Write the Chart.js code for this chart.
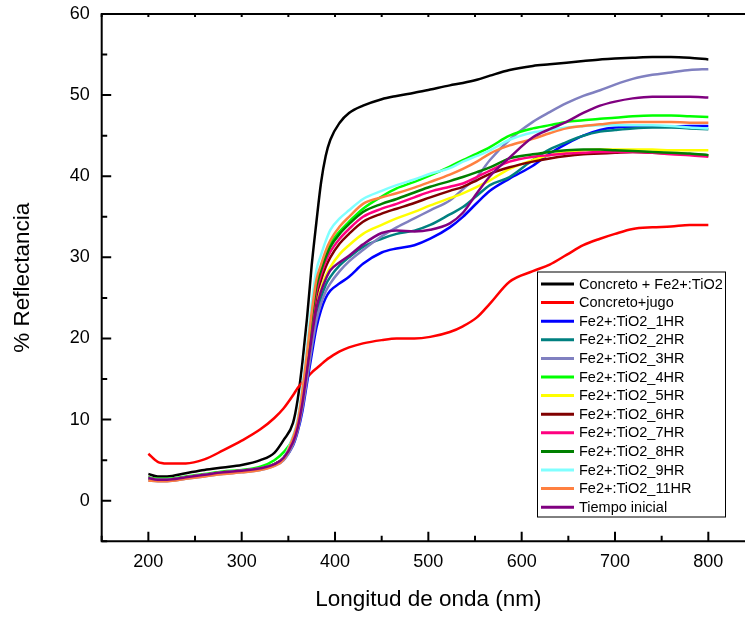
<!DOCTYPE html>
<html><head><meta charset="utf-8">
<script src="https://cdn.jsdelivr.net/npm/chart.js@4/dist/chart.umd.min.js"></script>
<style>
html,body{margin:0;padding:0;background:#fff;overflow:hidden;}
#wrap{width:745px;height:617px;overflow:hidden;position:relative;}
canvas{position:absolute;left:0;top:0;}
</style>
</head><body>
<div id="wrap"><canvas id="c" width="800" height="617" style="width:800px;height:617px"></canvas></div>
<script>
// ---- data ----
const wavelength = [200,210,220,240,260,280,300,320,335,345,355,360,365,370,375,380,385,390,395,405,415,430,450,466,485,502,523,537,552,566,587,612,630,648,666,684,700,719,740,760,780,800];

const concretoFe = [3.3,3.0,3.0,3.4,3.8,4.1,4.4,5.0,5.9,7.5,9.6,12.5,17.0,22.5,29.0,34.3,39.2,42.5,44.5,46.6,47.8,48.7,49.5,49.9,50.3,50.7,51.2,51.5,51.9,52.4,53.1,53.6,53.8,54.0,54.2,54.4,54.5,54.6,54.7,54.7,54.6,54.4];
const concretoJugo = [5.8,4.8,4.6,4.6,5.1,6.2,7.4,8.8,10.2,11.4,13.0,13.9,14.6,15.2,15.8,16.3,16.8,17.3,17.7,18.4,18.9,19.4,19.8,20.0,20.0,20.2,20.8,21.5,22.6,24.3,27.0,28.3,29.1,30.3,31.5,32.3,32.9,33.5,33.7,33.8,34.0,34.0];
const hr1 = [2.7,2.6,2.6,2.9,3.2,3.5,3.7,4.0,4.4,5.1,6.8,8.5,11.0,14.5,18.0,21.3,23.5,25.0,25.9,26.8,27.6,29.2,30.6,31.1,31.5,32.3,33.7,35.0,36.7,38.2,39.7,41.3,42.8,44.0,45.0,45.7,46.0,46.1,46.1,46.1,46.2,46.2];
const hr2 = [2.8,2.6,2.6,2.9,3.2,3.5,3.7,4.0,4.5,5.3,7.1,8.8,11.7,15.5,19.4,22.9,25.0,26.6,27.6,29.0,30.0,31.3,32.3,32.9,33.3,34.0,35.3,36.2,37.6,38.9,39.9,42.0,43.3,44.2,45.0,45.5,45.7,45.9,46.0,46.0,45.9,45.8];
const hr3 = [2.5,2.4,2.4,2.7,3.0,3.3,3.5,3.8,4.3,5.0,6.9,8.7,11.4,15.0,18.8,22.2,24.3,25.8,26.8,28.3,29.5,30.9,32.6,33.7,34.8,35.8,37.0,38.4,39.9,42.0,44.5,46.7,47.9,49.0,49.9,50.6,51.3,52.0,52.5,52.8,53.1,53.2];
const hr4 = [2.9,2.7,2.7,3.0,3.3,3.6,3.8,4.2,5.0,6.0,7.7,9.7,13.3,18.0,22.9,26.8,28.8,30.4,31.7,33.2,34.4,36.0,37.5,38.5,39.3,40.1,41.2,42.0,42.8,43.6,45.0,45.9,46.3,46.7,46.9,47.1,47.2,47.4,47.5,47.5,47.4,47.3];
const hr5 = [2.8,2.6,2.6,2.9,3.2,3.5,3.7,4.0,4.5,5.3,7.3,9.1,12.2,16.2,20.4,24.0,26.1,27.7,28.8,30.4,31.5,32.9,34.0,34.8,35.6,36.4,37.3,37.9,38.7,39.5,40.9,42.0,42.6,43.0,43.2,43.3,43.3,43.3,43.3,43.2,43.2,43.2];
const hr6 = [2.8,2.6,2.6,2.9,3.2,3.5,3.7,4.0,4.5,5.3,7.5,9.3,12.6,17.0,21.4,25.2,27.2,28.8,30.0,31.7,32.9,34.4,35.4,36.0,36.7,37.4,38.2,38.7,39.5,40.3,41.1,41.8,42.2,42.5,42.7,42.8,42.9,43.0,42.9,42.8,42.7,42.6];
const hr7 = [2.8,2.6,2.6,2.9,3.2,3.5,3.7,4.0,4.5,5.3,7.6,9.5,12.9,17.4,22.0,25.8,27.9,29.5,30.7,32.3,33.5,35.0,36.0,36.6,37.4,38.1,38.7,39.1,39.9,40.7,41.8,42.4,42.6,42.8,42.9,43.0,43.0,43.0,42.9,42.7,42.6,42.4];
const hr8 = [2.8,2.6,2.6,2.9,3.2,3.5,3.7,4.0,4.5,5.3,7.7,9.6,13.2,17.7,22.5,26.4,28.4,30.0,31.3,32.9,34.1,35.6,36.6,37.2,38.0,38.7,39.4,39.9,40.5,41.1,42.2,42.7,43.0,43.2,43.3,43.3,43.2,43.1,43.0,42.9,42.8,42.6];
const hr9 = [2.8,2.6,2.6,2.9,3.2,3.5,3.7,4.0,4.5,5.3,8.0,10.0,14.0,19.0,24.3,28.4,30.3,32.0,33.4,34.8,35.8,37.2,38.2,38.9,39.6,40.3,41.0,41.8,42.5,43.2,44.5,45.4,45.7,46.0,46.2,46.3,46.3,46.3,46.3,46.2,46.0,45.9];
const hr11 = [2.5,2.4,2.4,2.7,3.0,3.3,3.5,3.8,4.3,5.1,7.8,9.7,13.5,18.2,23.2,27.2,29.1,30.8,32.1,33.8,35.0,36.6,37.4,37.9,38.6,39.3,40.2,40.9,41.8,42.8,43.8,44.6,45.3,45.9,46.2,46.4,46.6,46.7,46.7,46.7,46.6,46.6];
const tiempoInicial = [2.8,2.6,2.6,2.9,3.2,3.5,3.7,4.0,4.5,5.3,7.2,9.0,12.0,16.0,20.1,23.7,25.8,27.3,28.4,29.4,30.2,31.6,33.0,33.3,33.2,33.4,34.2,35.5,37.9,40.0,42.3,44.8,45.8,46.7,47.8,48.7,49.2,49.6,49.8,49.8,49.8,49.7];

const seriesLabels = ['Concreto + Fe2+:TiO2','Concreto+jugo','Fe2+:TiO2_1HR','Fe2+:TiO2_2HR','Fe2+:TiO2_3HR','Fe2+:TiO2_4HR','Fe2+:TiO2_5HR','Fe2+:TiO2_6HR','Fe2+:TiO2_7HR','Fe2+:TiO2_8HR','Fe2+:TiO2_9HR','Fe2+:TiO2_11HR','Tiempo inicial'];
const seriesValues = [concretoFe,concretoJugo,hr1,hr2,hr3,hr4,hr5,hr6,hr7,hr8,hr9,hr11,tiempoInicial];
const seriesColors = ['#000000','#FF0000','#0000FF','#008080','#8080C0','#00FF00','#FFFF00','#800000','#FF0080','#008000','#80FFFF','#FF8040','#800080'];

const xTickLabels = [200,300,400,500,600,700,800];
const yTickLabels = [0,10,20,30,40,50,60];

const FONT = "'Liberation Sans', Arial, Helvetica, sans-serif";

const datasets = seriesLabels.map((lab,i)=>({
  label: lab,
  data: wavelength.map((w,j)=>({x:w, y:seriesValues[i][j]})),
  borderColor: seriesColors[i],
  backgroundColor: seriesColors[i],
  borderWidth: 2.5,
  pointRadius: 0,
  cubicInterpolationMode: 'monotone',
  fill: false,
  order: seriesLabels.length - i
}));

const framePlugin = {
  id: 'frame',
  afterDraw(chart){
    const {ctx, chartArea:a, scales:{x,y}} = chart;
    ctx.save();
    ctx.strokeStyle = '#000';
    ctx.lineWidth = 2;
    ctx.lineCap = 'butt';
    ctx.beginPath();
    ctx.moveTo(a.left, a.top); ctx.lineTo(a.right, a.top);
    ctx.moveTo(a.left, a.top - 1); ctx.lineTo(a.left, a.bottom + 1);
    ctx.moveTo(a.left - 1, a.bottom); ctx.lineTo(a.right, a.bottom);
    ctx.stroke();
    ctx.lineWidth = 2;
    ctx.beginPath();
    for (let v = x.min; v <= x.max + 1e-6; v += 50){
      const px = x.getPixelForValue(v);
      const len = (v % 100 === 0) ? 9.5 : 5.5;
      ctx.moveTo(px, a.bottom); ctx.lineTo(px, a.bottom - len);
      ctx.moveTo(px, a.top); ctx.lineTo(px, a.top + 3);
    }
    for (let v = y.min; v <= y.max + 1e-6; v += 5){
      const py = y.getPixelForValue(v);
      const len = (v % 10 === 0) ? 9.5 : 5.5;
      ctx.moveTo(a.left, py); ctx.lineTo(a.left + len, py);
    }
    ctx.stroke();
    // legend
    const bx = 537.5, by = 272, bw = 188, bh = 245;
    ctx.fillStyle = '#fff';
    ctx.fillRect(bx, by, bw, bh);
    ctx.lineWidth = 1;
    ctx.strokeStyle = '#000';
    ctx.strokeRect(bx, by, bw, bh);
    ctx.font = '14.5px ' + FONT;
    ctx.textBaseline = 'middle';
    ctx.textAlign = 'left';
    chart.data.datasets.forEach((ds,i)=>{
      const cy = 284 + i*18.6;
      ctx.strokeStyle = ds.borderColor;
      ctx.lineWidth = 3;
      ctx.beginPath(); ctx.moveTo(541, cy); ctx.lineTo(574, cy); ctx.stroke();
      ctx.fillStyle = '#000';
      ctx.fillText(ds.label, 579, cy + 0.5);
    });
    ctx.restore();
  }
};

new Chart(document.getElementById('c'), {
  type: 'line',
  data: { datasets },
  options: {
    responsive: false,
    devicePixelRatio: 1,
    animation: false,
    layout: { padding: { left: 0, top: 14, right: 45, bottom: 0 } },
    plugins: { legend: { display: false }, tooltip: { enabled: false } },
    scales: {
      x: {
        type: 'linear', min: 150, max: 850,
        grid: { display: false, drawTicks: false },
        border: { display: false },
        afterBuildTicks: s => { s.ticks = xTickLabels.map(v=>({value:v})); },
        afterFit: s => { s.height = 75.7; s.paddingLeft = 0; s.paddingRight = 0; },
        ticks: { padding: 10, color: '#000', font: { family: FONT, size: 18 }, maxRotation: 0, autoSkip: false },
        title: { display: true, text: 'Longitud de onda (nm)', color: '#000', font: { family: FONT, size: 22.5 }, padding: { top: 0, bottom: 4 } }
      },
      y: {
        type: 'linear', min: -5, max: 60,
        grid: { display: false, drawTicks: false },
        border: { display: false },
        afterBuildTicks: s => { s.ticks = yTickLabels.map(v=>({value:v})); },
        afterFit: s => { s.width = 101.7; s.paddingTop = 0; s.paddingBottom = 0; },
        ticks: { padding: 12, color: '#000', font: { family: FONT, size: 18 } },
        title: { display: true, text: '% Reflectancia', color: '#000', font: { family: FONT, size: 22.5 }, padding: { top: 9, bottom: 0 } }
      }
    }
  },
  plugins: [framePlugin]
});
</script>
</body></html>
